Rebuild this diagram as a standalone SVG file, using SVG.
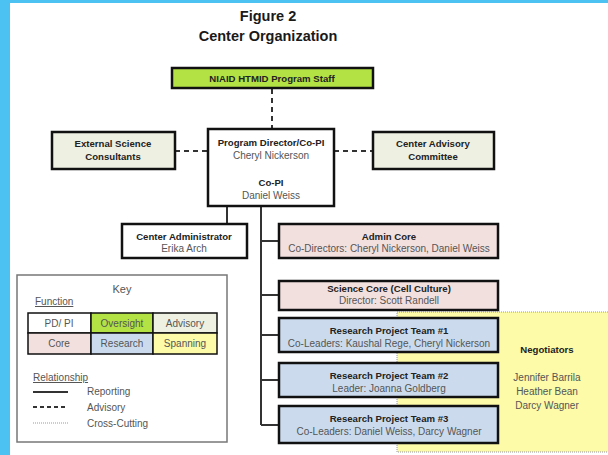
<svg xmlns="http://www.w3.org/2000/svg" width="608" height="455" viewBox="0 0 608 455">
  <style>
    .box { stroke: #111; stroke-width: 2.5; }
    .pdpi { fill: #ffffff; }
    .oversight { fill: #b3e244; }
    .advisory { fill: #eef0e2; }
    .core { fill: #f2e0df; }
    .research { fill: #cbdbed; }
    .spanning { fill: #fdfaa8; }
    text { font-family: "Liberation Sans", Arial, sans-serif; text-anchor: middle; }
    .title { font-size: 14.5px; font-weight: bold; fill: #1a1a1a; }
    .head { font-size: 9.6px; font-weight: bold; fill: #222; }
    .name { font-size: 10px; fill: #555; }
    .key { font-size: 10px; fill: #555; }
    .rep { stroke: #333; stroke-width: 2; fill: none; }
    .adv { stroke: #333; stroke-width: 2; fill: none; stroke-dasharray: 5 4; }
    .cross { stroke: #999; stroke-width: 1; fill: none; stroke-dasharray: 1 1; }
  </style>

  <!-- page background and blue frame -->
  <rect x="0" y="0" width="608" height="455" fill="#ffffff"/>
  <rect x="0" y="0" width="10" height="455" fill="#4cc2f2"/>
  <rect x="0" y="0" width="608" height="3" fill="#4cc2f2"/>

  <!-- heading -->
  <text class="title" x="268" y="21">Figure 2</text>
  <text class="title" x="268" y="41">Center Organization</text>

  <!-- negotiators band (behind research teams) -->
  <g id="negotiators">
    <rect x="397" y="312" width="220" height="140" class="spanning" stroke="#999" stroke-width="1" stroke-dasharray="1 1"/>
    <text class="head" x="547" y="353">Negotiators</text>
    <text class="name" x="547" y="381">Jennifer Barrila</text>
    <text class="name" x="547" y="395">Heather Bean</text>
    <text class="name" x="547" y="409">Darcy Wagner</text>
  </g>

  <!-- connectors -->
  <g id="connectors">
    <line class="adv" x1="272" y1="89" x2="272" y2="129"/>
    <line class="adv" x1="175" y1="151" x2="208" y2="151"/>
    <line class="adv" x1="334" y1="151" x2="373" y2="151"/>
    <line class="rep" x1="227" y1="206" x2="227" y2="224"/>
    <line class="rep" x1="261" y1="206" x2="261" y2="425"/>
    <line class="rep" x1="261" y1="241" x2="279" y2="241"/>
    <line class="rep" x1="261" y1="295" x2="279" y2="295"/>
    <line class="rep" x1="261" y1="335" x2="279" y2="335"/>
    <line class="rep" x1="261" y1="380" x2="279" y2="380"/>
    <line class="rep" x1="261" y1="425" x2="279" y2="425"/>
  </g>

  <g id="niaid">
    <rect x="172" y="68" width="201" height="20" class="box oversight"/>
    <text class="head" x="272" y="82">NIAID HTMID Program Staff</text>
  </g>

  <g id="external-consultants">
    <rect x="52" y="132" width="123" height="37" class="box advisory"/>
    <text class="head" x="113" y="147">External Science</text>
    <text class="head" x="113" y="160">Consultants</text>
  </g>

  <g id="advisory-committee">
    <rect x="373" y="132" width="121" height="37" class="box advisory"/>
    <text class="head" x="433" y="147">Center Advisory</text>
    <text class="head" x="433" y="160">Committee</text>
  </g>

  <g id="program-director">
    <rect x="208" y="129" width="126" height="77" class="box pdpi"/>
    <text class="head" x="271" y="146">Program Director/Co-PI</text>
    <text class="name" x="271" y="159">Cheryl Nickerson</text>
    <text class="head" x="271" y="186">Co-PI</text>
    <text class="name" x="271" y="199">Daniel Weiss</text>
  </g>

  <g id="center-administrator">
    <rect x="122" y="224" width="125" height="34" class="box pdpi"/>
    <text class="head" x="184" y="240">Center Administrator</text>
    <text class="name" x="184" y="252">Erika Arch</text>
  </g>

  <g id="admin-core">
    <rect x="279" y="224" width="219" height="34" class="box core"/>
    <text class="head" x="389" y="240">Admin Core</text>
    <text class="name" x="389" y="252">Co-Directors: Cheryl Nickerson, Daniel Weiss</text>
  </g>

  <g id="science-core">
    <rect x="279" y="281" width="219" height="29" class="box core"/>
    <text class="head" x="389" y="292">Science Core (Cell Culture)</text>
    <text class="name" x="389" y="304">Director: Scott Randell</text>
  </g>

  <g id="team-1">
    <rect x="279" y="318" width="219" height="34" class="box research"/>
    <text class="head" x="389" y="334">Research Project Team #1</text>
    <text class="name" x="389" y="347">Co-Leaders: Kaushal Rege, Cheryl Nickerson</text>
  </g>

  <g id="team-2">
    <rect x="279" y="363" width="219" height="34" class="box research"/>
    <text class="head" x="389" y="379">Research Project Team #2</text>
    <text class="name" x="389" y="392">Leader: Joanna Goldberg</text>
  </g>

  <g id="team-3">
    <rect x="279" y="406" width="219" height="37" class="box research"/>
    <text class="head" x="389" y="422">Research Project Team #3</text>
    <text class="name" x="389" y="435">Co-Leaders: Daniel Weiss, Darcy Wagner</text>
  </g>

  <!-- legend -->
  <g id="key">
    <rect x="17" y="275" width="210" height="167" fill="#ffffff" stroke="#777" stroke-width="1.5"/>
    <text class="key" x="122" y="293" style="font-size:11px">Key</text>
    <text class="key" x="35" y="305" style="text-anchor:start;text-decoration:underline">Function</text>
    <rect x="28" y="313" width="63" height="20" class="pdpi" stroke="#111" stroke-width="1.5"/>
    <rect x="91" y="313" width="62" height="20" class="oversight" stroke="#111" stroke-width="1.5"/>
    <rect x="153" y="313" width="64" height="20" class="advisory" stroke="#111" stroke-width="1.5"/>
    <rect x="28" y="333" width="63" height="21" class="core" stroke="#111" stroke-width="1.5"/>
    <rect x="91" y="333" width="62" height="21" class="research" stroke="#111" stroke-width="1.5"/>
    <rect x="153" y="333" width="64" height="21" class="spanning" stroke="#111" stroke-width="1.5"/>
    <text class="key" x="59" y="327">PD/ PI</text>
    <text class="key" x="122" y="327">Oversight</text>
    <text class="key" x="185" y="327">Advisory</text>
    <text class="key" x="59" y="347">Core</text>
    <text class="key" x="122" y="347">Research</text>
    <text class="key" x="185" y="347">Spanning</text>
    <text class="key" x="33" y="381" style="text-anchor:start;text-decoration:underline">Relationship</text>
    <line class="rep" x1="33" y1="392" x2="68" y2="392"/>
    <line class="adv" x1="33" y1="407" x2="68" y2="407" style="stroke-dasharray:4 3"/>
    <line class="cross" x1="33" y1="423" x2="68" y2="423"/>
    <text class="key" x="87" y="395" style="text-anchor:start">Reporting</text>
    <text class="key" x="87" y="411" style="text-anchor:start">Advisory</text>
    <text class="key" x="87" y="427" style="text-anchor:start">Cross-Cutting</text>
  </g>
</svg>
